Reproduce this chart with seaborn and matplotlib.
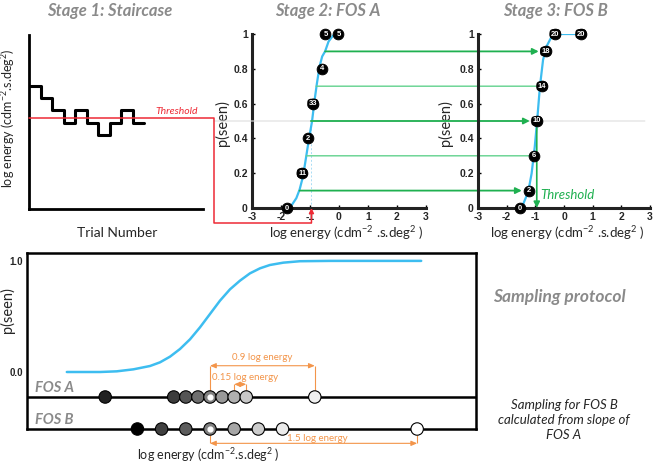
import numpy as np
import pandas as pd
import matplotlib as mpl
import matplotlib.pyplot as plt
from matplotlib.patches import ConnectionPatch
from matplotlib.lines import Line2D
import seaborn as sns

sns.set_style("white")
mpl.rcParams['font.family'] = ['Lato', 'DejaVu Sans']
mpl.rcParams['axes.unicode_minus'] = False
mpl.rcParams['mathtext.fontset'] = 'custom'
mpl.rcParams['mathtext.rm'] = 'Lato'
mpl.rcParams['mathtext.it'] = 'Lato:italic'
mpl.rcParams['mathtext.bf'] = 'Lato:bold'

# ---- data ----
# stage 1: staircase (trial number vs level step)
stair_trial = [0, 1, 2, 3, 4, 5, 6, 7, 8, 9, 10]
stair_level = [5, 4, 3, 2, 3, 2, 1, 2, 3, 2, 2]
stair_threshold = 2.4

# stage 2: FOS A
fos_a_curve_x = [-1.80, -1.62, -1.47, -1.36, -1.24, -1.13, -1.04, -0.93, -0.84, -0.76,
                 -0.67, -0.58, -0.48, -0.36, -0.21, -0.02]
fos_a_curve_p = [0.0, 0.019, 0.057, 0.105, 0.182, 0.297, 0.393, 0.498, 0.622, 0.718,
                 0.814, 0.871, 0.90, 0.957, 0.99, 1.0]
fos_a_pts_x = [-1.8, -1.27, -1.07, -0.9, -0.59, -0.47, -0.02]
fos_a_pts_p = [0, 0.2, 0.4, 0.6, 0.8, 1.0, 1.0]
fos_a_counts = ['0', '11', '2', '33', '4', '5', '5']

# stage 3: FOS B
fos_b_curve_x = [-1.48, -1.37, -1.25, -1.13, -1.02, -0.94, -0.84, -0.73, -0.61, -0.43, -0.31, 0.59]
fos_b_curve_p = [0.0, 0.044, 0.092, 0.198, 0.352, 0.496, 0.698, 0.852, 0.928, 0.986, 1.0, 1.0]
fos_b_pts_x = [-1.53, -1.23, -1.06, -0.95, -0.77, -0.64, -0.31, 0.59]
fos_b_pts_p = [0, 0.1, 0.3, 0.5, 0.7, 0.9, 1.0, 1.0]
fos_b_counts = ['0', '2', '6', '10', '14', '18', '20', '20']

# green transfer lines FOS A -> FOS B
transfer_p = [0.1, 0.3, 0.5, 0.7, 0.9]
transfer_from_x = [-1.36, -1.13, -0.97, -0.79, -0.48]
transfer_to_x = [-1.23, -1.06, -0.95, -0.77, -0.64]
transfer_arrow = [True, False, True, False, True]
threshold_x = -0.95

# sampling protocol
proto_curve_x = [-1.776, -1.570, -1.363, -1.157, -0.950, -0.744, -0.620, -0.496, -0.372,
                 -0.248, -0.124, 0.0, 0.124, 0.248, 0.372, 0.496, 0.620, 0.743, 0.909,
                 1.115, 1.5, 2.62]
proto_curve_p = [0.0, 0.0, 0.0, 0.006, 0.024, 0.054, 0.087, 0.138, 0.207,
                 0.294, 0.402, 0.522, 0.642, 0.744, 0.822, 0.888, 0.933, 0.963, 0.984,
                 0.997, 1.0, 1.0]
sample_a_x = [-1.3, -0.45, -0.3, -0.15, 0.0, 0.15, 0.3, 0.45, 1.3]
sample_a_grey = ['#222222', '#3c3c3c', '#555555', '#6e6e6e', '#808080', '#999999', '#b0b0b0', '#c8c8c8', '#f0f0f0']
sample_b_x = [-0.9, -0.6, -0.3, 0.0, 0.3, 0.6, 0.9, 2.57]
sample_b_grey = ['#000000', '#404040', '#5c5c5c', '#808080', '#a6a6a6', '#cccccc', '#ebebeb', '#ffffff']

BLUE = '#3dbdf0'
GREEN = '#1fb050'
LGREEN = '#62d28e'
RED = '#ee2a35'
ORANGE = '#f3954a'
TITLE_GREY = '#8a8a8a'
TICKFONT = dict(family='Liberation Sans', weight='bold', size=7.5)

fig = plt.figure(figsize=(6.53, 4.66), dpi=100)
W, H = 653, 466


def box(x0, y0, x1, y1):
    return [x0 / W, 1 - y1 / H, (x1 - x0) / W, (y1 - y0) / H]


ax1 = fig.add_axes(box(29, 35, 203, 209))
ax2 = fig.add_axes(box(252, 34, 426, 208))
ax3 = fig.add_axes(box(478, 34, 650, 208))
ax4 = fig.add_axes(box(27, 253, 476, 429))

# ---- stage 1 ----
sns.lineplot(x=stair_trial, y=stair_level, drawstyle='steps-post', color='black',
             lw=2.2, ax=ax1)
ax1.set_xlim(0, 15.1)
ax1.set_ylim(-4.9, 9.05)
ax1.set_xticks([])
ax1.set_yticks([])
for s in ['top', 'right']:
    ax1.spines[s].set_visible(False)
for s in ['left', 'bottom']:
    ax1.spines[s].set_linewidth(2)
    ax1.spines[s].set_color('black')
ax1.set_ylabel('log energy (cdm$^{-2}$.s.deg$^{2}$)', fontsize=9)
ax1.yaxis.set_label_coords(-0.07, 0.52)
ax1.set_xlabel('Trial Number', fontsize=10)
ax1.xaxis.set_label_coords(0.506, -0.105)
ax1.text(14.7, stair_threshold + 0.15, 'Threshold', color=RED, fontsize=7.5,
         style='italic', ha='right', va='bottom')


# ---- FOS panels ----
def fos_panel(ax, cx, cp, px, pp, counts):
    sns.lineplot(x=cx, y=cp, color=BLUE, lw=1.6, ax=ax, sort=False, zorder=3)
    sns.scatterplot(x=px, y=pp, color='black', s=60, edgecolor='black', ax=ax,
                    zorder=5, clip_on=False)
    for x, p, lab in zip(px, pp, counts):
        bb = None
        if len(lab) > 1:
            bb = dict(boxstyle='round,pad=0.18,rounding_size=0.5', fc='black', ec='none')
        ax.text(x, p, lab, ha='center', va='center', color='white', fontsize=5.5,
                fontweight='bold', family='Liberation Sans', zorder=6, bbox=bb)
    ax.set_xlim(-3, 3)
    ax.set_ylim(0, 1)
    ax.set_xticks(range(-3, 4))
    ax.set_xticklabels([str(v) for v in range(-3, 4)], fontdict=TICKFONT)
    ax.set_yticks([0, 0.2, 0.4, 0.6, 0.8, 1])
    ax.set_yticklabels(['0', '0.2', '0.4', '0.6', '0.8', '1'], fontdict=TICKFONT)
    ax.tick_params(direction='in', length=2.5, width=1, color='black', pad=3,
                   left=True, bottom=True)
    for s in ['top', 'right']:
        ax.spines[s].set_visible(False)
    for s in ['left', 'bottom']:
        ax.spines[s].set_linewidth(2.2)
        ax.spines[s].set_color('#222222')
    ax.set_ylabel('p(seen)', fontsize=10.5)
    ax.set_xlabel('log energy (cdm$^{-2}$ .s.deg$^{2}$ )', fontsize=9.5)


fos_panel(ax2, fos_a_curve_x, fos_a_curve_p, fos_a_pts_x, fos_a_pts_p, fos_a_counts)
fos_panel(ax3, fos_b_curve_x, fos_b_curve_p, fos_b_pts_x, fos_b_pts_p, fos_b_counts)
ax2.yaxis.set_label_coords(-0.126, 0.49)
ax3.yaxis.set_label_coords(-0.145, 0.49)
ax2.xaxis.set_label_coords(0.54, -0.095)
ax3.xaxis.set_label_coords(0.52, -0.095)

ax2.plot([threshold_x, threshold_x], [0, 0.5], ls=(0, (2, 2)), color='#a8dcf5', lw=0.7)

# faint p = 0.5 guide across both FOS panels
guide = ConnectionPatch(xyA=(-0.218, 0.5), coordsA=ax2.transAxes,
                        xyB=(0.97, 0.5), coordsB=ax3.transAxes,
                        color='#dddddd', lw=0.8, zorder=1)
ax3.add_artist(guide)

for p, fx, tx, arr in zip(transfer_p, transfer_from_x, transfer_to_x, transfer_arrow):
    con = ConnectionPatch(xyA=(fx, p), coordsA=ax2.transData,
                          xyB=(tx, p), coordsB=ax3.transData,
                          arrowstyle='-|>' if arr else '-',
                          mutation_scale=9, shrinkA=0, shrinkB=5 if arr else 0,
                          color=GREEN if arr else LGREEN,
                          lw=1.3 if arr else 1.0, zorder=2)
    ax3.add_artist(con)

ax3.annotate('', xy=(threshold_x, 0), xytext=(threshold_x, 0.5),
             arrowprops=dict(arrowstyle='-|>', color=GREEN, lw=1.2,
                             mutation_scale=9, shrinkA=5, shrinkB=0))
ax3.text(-0.84, 0.073, 'Threshold', color=GREEN, fontsize=9.5, style='italic',
         ha='left', va='center')

# red link from staircase threshold to FOS A
tf = fig.transFigure.inverted()
p0 = tf.transform(ax1.transData.transform((0, stair_threshold)))
cx = tf.transform(ax1.transAxes.transform((1.063, 0)))[0]
by = tf.transform(ax2.transAxes.transform((0, -0.086)))[1]
tx = tf.transform(ax2.transData.transform((threshold_x, 0)))[0]
fig.add_artist(Line2D([p0[0], cx, cx, tx], [p0[1], p0[1], by, by],
                      transform=fig.transFigure, color=RED, lw=1.1))
red_up = ConnectionPatch(xyA=(threshold_x, -0.086), coordsA=ax2.get_xaxis_transform(),
                         xyB=(threshold_x, 0), coordsB=ax2.transData,
                         arrowstyle='-|>', mutation_scale=7, color=RED, lw=1.1,
                         shrinkA=0, shrinkB=0)
fig.add_artist(red_up)

# ---- sampling protocol ----
fos_a_y = -0.225
fos_b_y = -0.513
ax4.set_xlim(-2.27, 3.30)
ax4.set_ylim(fos_b_y, 1.071)
sns.lineplot(x=proto_curve_x, y=proto_curve_p, color=BLUE, lw=1.8, ax=ax4, sort=False)
ax4.axhline(fos_a_y, color='black', lw=1.8, zorder=2)

df_a = pd.DataFrame({'x': sample_a_x, 'y': fos_a_y, 'id': range(len(sample_a_x))})
df_b = pd.DataFrame({'x': sample_b_x, 'y': fos_b_y, 'id': range(len(sample_b_x))})
sns.scatterplot(data=df_a, x='x', y='y', hue='id', palette=dict(enumerate(sample_a_grey)),
                s=80, edgecolor='black', linewidth=0.8, legend=False, ax=ax4,
                zorder=5, clip_on=False)
sns.scatterplot(data=df_b, x='x', y='y', hue='id', palette=dict(enumerate(sample_b_grey)),
                s=80, edgecolor='black', linewidth=0.8, legend=False, ax=ax4,
                zorder=5, clip_on=False)
ax4.scatter([0, 0], [fos_a_y, fos_b_y], s=12, color='white', zorder=6, clip_on=False)

for s in ax4.spines.values():
    s.set_linewidth(1.8)
    s.set_color('black')
ax4.set_xticks([])
ax4.set_yticks([0, 1])
ax4.set_yticklabels(['0.0', '1.0'], fontdict=dict(family='Liberation Sans', weight='bold', size=7))
ax4.tick_params(axis='y', length=0, pad=3)
ax4.set_ylabel('p(seen)', fontsize=10.5)
ax4.yaxis.set_label_coords(-0.027, 0.676)
ax4.set_xlabel('log energy (cdm$^{-2}$.s.deg$^{2}$ )', fontsize=9)
ax4.xaxis.set_label_coords(0.405, -0.098)

ax4.text(-2.17, fos_a_y + 0.02, 'FOS A', color=TITLE_GREY, fontsize=10.5, fontweight='bold',
         style='italic', ha='left', va='bottom')
ax4.text(-2.17, fos_b_y + 0.02, 'FOS B', color=TITLE_GREY, fontsize=10.5, fontweight='bold',
         style='italic', ha='left', va='bottom')

arrow_kw = dict(arrowstyle='<|-|>,head_length=0.35,head_width=0.15', color=ORANGE, lw=0.8,
                shrinkA=0, shrinkB=0)
# 0.9 log energy
ax4.annotate('', xy=(1.3, 0.0565), xytext=(0, 0.0565), arrowprops=arrow_kw)
ax4.vlines([0, 1.3], -0.171, 0.0565, color=ORANGE, lw=0.8)
ax4.text(0.65, 0.126, '0.9 log energy', color=ORANGE, fontsize=7, ha='center', va='center')
# 0.15 log energy
ax4.annotate('', xy=(0.45, -0.111), xytext=(0.3, -0.111), arrowprops=arrow_kw)
ax4.vlines([0.3, 0.45], -0.171, -0.111, color=ORANGE, lw=0.8)
ax4.text(0.43, -0.045, '0.15 log energy', color=ORANGE, fontsize=7, ha='center', va='center')
# 1.5 log energy
ax4.annotate('', xy=(2.57, -0.642), xytext=(0, -0.642), arrowprops=arrow_kw,
             annotation_clip=False)
ax4.vlines([0, 2.57], -0.642, -0.567, color=ORANGE, lw=0.8, clip_on=False)
ax4.text(1.33, -0.603, '1.5 log energy', color=ORANGE, fontsize=7, ha='center',
         va='center', clip_on=False)

# ---- titles and notes ----
title_kw = dict(color=TITLE_GREY, fontsize=12, fontweight='bold', style='italic',
                ha='center', va='center')
fig.text(110 / W, 1 - 11 / H, 'Stage 1: Staircase', **title_kw)
fig.text(328 / W, 1 - 11 / H, 'Stage 2: FOS A', **title_kw)
fig.text(555 / W, 1 - 11 / H, 'Stage 3: FOS B', **title_kw)
fig.text(559 / W, 1 - 297 / H, 'Sampling protocol', color=TITLE_GREY, fontsize=12.5,
         fontweight='bold', style='italic', ha='center', va='center')
fig.text(564 / W, 1 - 420 / H, 'Sampling for FOS B\ncalculated from slope of\nFOS A',
         fontsize=9.5, style='italic', ha='center', va='center', linespacing=1.3)

fig.savefig('out.png', dpi=100)
